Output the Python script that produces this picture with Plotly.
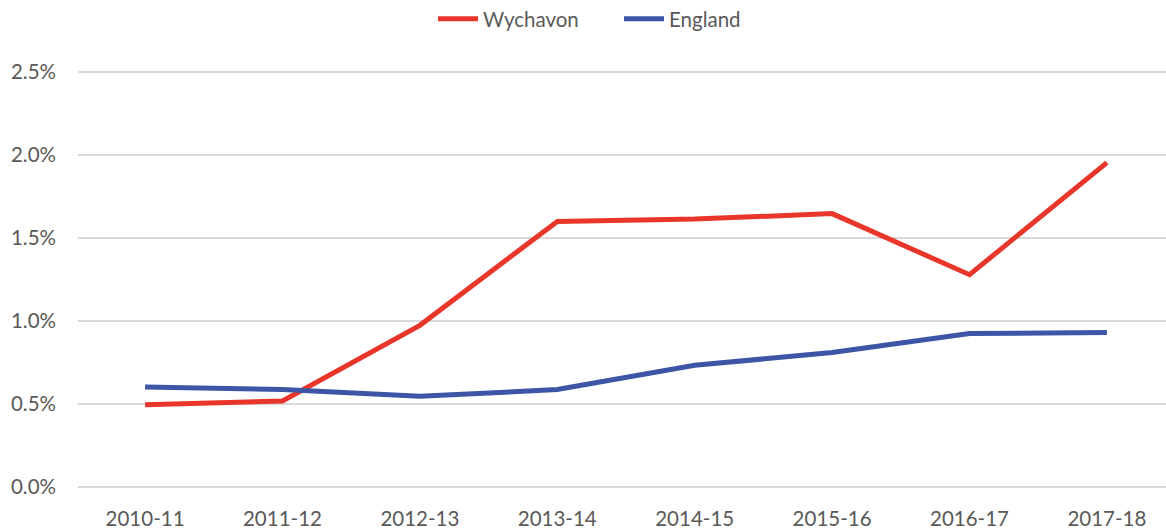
import plotly.graph_objects as go

categories = ["2010-11", "2011-12", "2012-13", "2013-14", "2014-15", "2015-16", "2016-17", "2017-18"]
wychavon = [0.496, 0.518, 0.974, 1.600, 1.614, 1.647, 1.279, 1.954]
england = [0.602, 0.587, 0.546, 0.587, 0.733, 0.810, 0.924, 0.930]
y_ticks = [0, 0.5, 1.0, 1.5, 2.0, 2.5]
y_tick_labels = ["0.0%", "0.5%", "1.0%", "1.5%", "2.0%", "2.5%"]

FONT = "Lato, 'Open Sans', sans-serif"
GREY = "#595959"
FS = 20.5

fig = go.Figure()
fig.add_trace(go.Scatter(x=list(range(len(categories))), y=wychavon, mode="lines", name="Wychavon",
                         line=dict(color="#E8372A", width=5)))
fig.add_trace(go.Scatter(x=list(range(len(categories))), y=england, mode="lines", name="England",
                         line=dict(color="#3D55A5", width=5)))

fig.update_layout(
    width=1166, height=530,
    margin=dict(l=78, r=0, t=70, b=41, autoexpand=False),
    paper_bgcolor="white", plot_bgcolor="white",
    font=dict(family=FONT, size=FS, color=GREY),
    showlegend=True,
    legend=dict(orientation="h", x=433 / 1166, xref="container", xanchor="left",
                y=1 - 19 / 530, yanchor="middle", yref="container",
                font=dict(size=FS, color=GREY), itemwidth=40,
                entrywidth=131, entrywidthmode="pixels",
                tracegroupgap=0, bgcolor="rgba(0,0,0,0)"),
    xaxis=dict(tickmode="array", tickvals=list(range(len(categories))), ticktext=categories,
               range=[-0.488, 7.43], showgrid=False, zeroline=False, showline=False,
               ticks="", ticklabelstandoff=15, tickfont=dict(size=FS, color=GREY)),
    yaxis=dict(tickmode="array", tickvals=y_ticks, ticktext=y_tick_labels,
               range=[-0.012, 2.512], showgrid=True, gridcolor="#D9D9D9", gridwidth=1.5,
               zeroline=False, showline=False, ticks="", ticklabelstandoff=21,
               tickfont=dict(size=FS, color=GREY)),
)

fig.write_html("out.html", config={"displayModeBar": False},
               post_script="document.body.style.margin='0';document.body.style.padding='0';")
